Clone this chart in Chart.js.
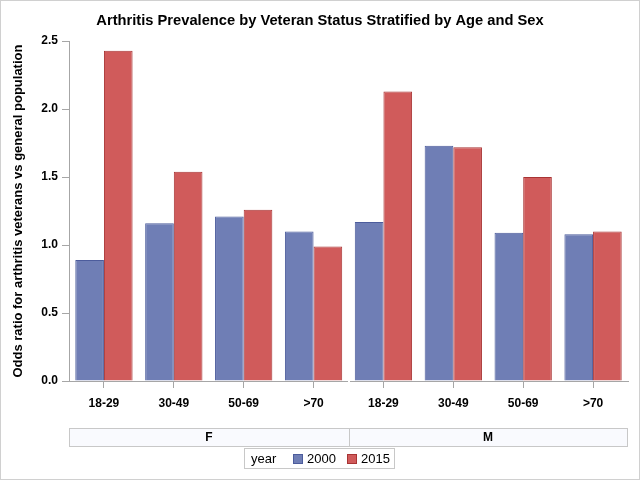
<!DOCTYPE html>
<html lang="en">
<head>
  <meta charset="UTF-8" />
  <title>Arthritis Prevalence by Veteran Status</title>
  <script src="https://cdn.jsdelivr.net/npm/chart.js"></script>
  <style>
    html, body { margin: 0; padding: 0; background: #fff; }
    #wrap { position: relative; width: 638px; height: 478px; border: 1px solid #d0d0d0; }
    canvas { display: block; }
  </style>
</head>
<body>
  <div id="wrap"><canvas id="chart" width="638" height="478"></canvas></div>

  <script>
    // data
    const ageGroups = ["18-29", "30-49", "50-69", ">70"];
    const sexes = ["F", "M"];
    const years = ["2000", "2015"];
    const odds2000 = [0.89, 1.16, 1.21, 1.10, 1.17, 1.73, 1.09, 1.08];
    const odds2015 = [2.43, 1.54, 1.26, 0.99, 2.13, 1.72, 1.50, 1.10];
    const yTicks = [0.0, 0.5, 1.0, 1.5, 2.0, 2.5];

    const labels = sexes.flatMap(() => ageGroups);
    const fills = ["#6f7eb5", "#d05b5b"];
    const borders = ["#4c5c9c", "#a83434"];
    const axisGray = "#a6a6a6";
    const fam = "'Liberation Sans', Arial, sans-serif";
    const boldFont = { family: fam, size: 12, weight: "bold" };

    // panel strip (F / M) and the "year" legend underneath the axis
    const panelStrip = {
      id: "panelStrip",
      afterDraw(chart) {
        const ctx = chart.ctx;
        const x = chart.scales.x;
        const area = chart.chartArea;
        const n = ageGroups.length;
        const split = Math.round((x.getPixelForTick(n - 1) + x.getPixelForTick(n)) / 2);
        const top = 427, h = 18;
        ctx.save();
        ctx.lineWidth = 1;
        ctx.fillStyle = "#f9fafe";
        ctx.fillRect(area.left + 0.5, top + 0.5, area.right - area.left - 1, h);
        ctx.strokeStyle = "#c8c8c8";
        const cells = [[Math.round(area.left), split], [split, Math.round(area.right) - 1]];
        cells.forEach(([a, b], i) => {
          ctx.strokeRect(a + 0.5, top + 0.5, b - a, h);
          ctx.fillStyle = "#000";
          ctx.font = "bold 12px " + fam;
          ctx.textAlign = "center";
          ctx.textBaseline = "middle";
          ctx.fillText(sexes[i], (a + b) / 2, top + h / 2 + 1);
        });

        // break in the x axis line between the panels
        ctx.fillStyle = "#fff";
        ctx.fillRect(split - 1, area.bottom - 1, 2, 2);

        // legend
        ctx.font = "13px " + fam;
        ctx.textAlign = "left";
        ctx.textBaseline = "middle";
        const ly = 458;
        let w = 7 + ctx.measureText("year").width + 17;
        years.forEach((yr, i) => { w += 10 + 4 + ctx.measureText(yr).width + (i < years.length - 1 ? 11 : 4); });
        w = Math.round(w);
        const lx = Math.round(chart.width / 2 - w / 2) - 1;
        ctx.strokeStyle = "#c8c8c8";
        ctx.strokeRect(lx + 0.5, 447.5, w, 20);
        let cx = lx + 7;
        ctx.fillStyle = "#000";
        ctx.fillText("year", cx, ly);
        cx += ctx.measureText("year").width + 17;
        chart.data.datasets.forEach((ds) => {
          cx = Math.round(cx);
          ctx.fillStyle = ds.backgroundColor;
          ctx.strokeStyle = ds.borderColor;
          ctx.fillRect(cx, ly - 5, 10, 10);
          ctx.strokeRect(cx + 0.5, ly - 4.5, 9, 9);
          cx += 14;
          ctx.fillStyle = "#000";
          ctx.fillText(ds.label, cx, ly);
          cx += ctx.measureText(ds.label).width + 11;
        });
        ctx.restore();
      }
    };

    new Chart(document.getElementById("chart"), {
      type: "bar",
      data: {
        labels: labels,
        datasets: years.map((yr, i) => ({
          label: yr,
          data: i === 0 ? odds2000 : odds2015,
          backgroundColor: fills[i],
          borderColor: borders[i],
          borderWidth: 1,
          categoryPercentage: 0.82,
          barPercentage: 1.0
        }))
      },
      options: {
        responsive: false,
        animation: false,
        layout: { padding: { left: 0, right: 0, top: 0, bottom: 68 } },
        plugins: {
          legend: { display: false },
          tooltip: { enabled: false },
          title: {
            display: true,
            text: "Arthritis Prevalence by Veteran Status Stratified by Age and Sex",
            color: "#000",
            font: { family: fam, size: 14.7, weight: "bold" },
            padding: { top: 11, bottom: 11.5 }
          }
        },
        scales: {
          x: {
            grid: { drawOnChartArea: false, offset: false, color: axisGray, tickLength: 7 },
            border: { color: axisGray },
            ticks: { color: "#000", font: boldFont, padding: 8, maxRotation: 0, autoSkip: false },
            afterFit(scale) { scale.height = 30; }
          },
          y: {
            min: 0,
            max: 2.5,
            afterBuildTicks(scale) { scale.ticks = yTicks.map(v => ({ value: v })); },
            grid: { drawOnChartArea: false, color: axisGray, tickLength: 7 },
            border: { color: axisGray },
            ticks: { color: "#000", font: boldFont, padding: 4, callback: v => v.toFixed(1) },
            title: {
              display: true,
              text: "Odds ratio for arthritis veterans vs general population",
              color: "#000",
              font: { family: fam, size: 13, weight: "bold" },
              padding: { top: 10, bottom: 0 }
            },
            afterFit(scale) { scale.width = 68; }
          },
          // empty right margin so the title stays centred on the page
          spacer: {
            type: "linear",
            position: "right",
            display: true,
            min: 0,
            max: 1,
            grid: { display: false },
            border: { display: false },
            ticks: { display: false },
            afterFit(scale) { scale.width = 11; }
          }
        }
      },
      plugins: [panelStrip]
    });
  </script>
</body>
</html>
